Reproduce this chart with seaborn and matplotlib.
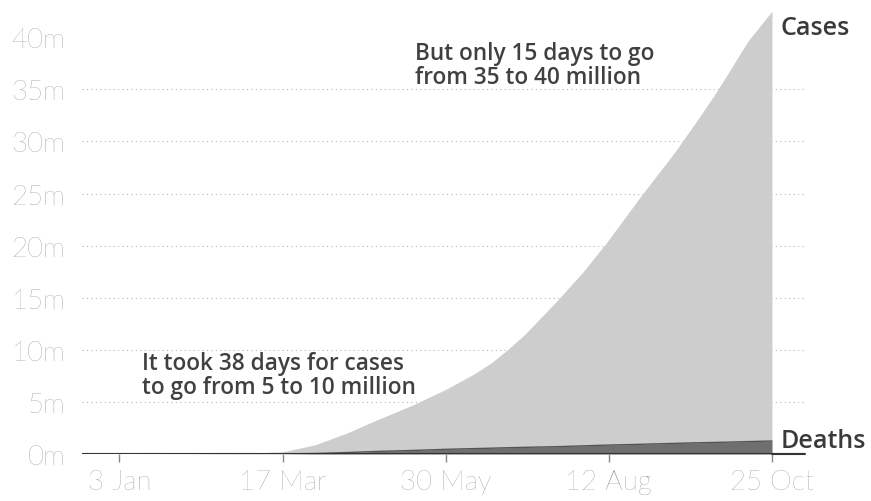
import pandas as pd
import seaborn as sns
import matplotlib.pyplot as plt

# cumulative global totals, millions
dates = ["2019-12-17", "2020-01-03", "2020-02-01", "2020-03-01", "2020-03-17",
         "2020-04-01", "2020-04-15", "2020-04-28", "2020-05-15", "2020-05-30",
         "2020-06-12", "2020-06-20", "2020-06-27", "2020-07-05", "2020-07-19",
         "2020-07-31", "2020-08-11", "2020-08-26", "2020-09-11", "2020-09-20",
         "2020-09-29", "2020-10-05", "2020-10-14", "2020-10-25"]
cases = [0, 0, 0.012, 0.088, 0.2, 0.9, 2.0, 3.2, 4.7, 6.2, 7.7, 8.8, 10.0,
         11.5, 14.6, 17.4, 20.3, 24.6, 29.0, 31.7, 34.5, 36.5, 39.6, 42.5]
deaths = [0, 0, 0.0003, 0.003, 0.008, 0.05, 0.14, 0.24, 0.34, 0.45, 0.52, 0.56,
          0.6, 0.64, 0.7, 0.78, 0.85, 0.93, 1.02, 1.07, 1.11, 1.14, 1.19, 1.25]

yticks = [0, 5, 10, 15, 20, 25, 30, 35, 40]
ytick_labels = ["0m", "5m", "10m", "15m", "20m", "25m", "30m", "35m", "40m"]
xticks = ["2020-01-03", "2020-03-17", "2020-05-30", "2020-08-12", "2020-10-25"]
xtick_labels = ["3 Jan", "17 Mar", "30 May", "12 Aug", "25 Oct"]

df = pd.DataFrame({"date": pd.to_datetime(dates), "cases": cases, "deaths": deaths})

sns.set_style("white")
plt.rcParams["font.family"] = ["Open Sans", "DejaVu Sans"]

fig = plt.figure(figsize=(8.71, 5.02), dpi=100)
ax = fig.add_axes([82 / 871, 1 - 455 / 502, (805 - 82) / 871, (455 - 7) / 502])

ax.fill_between(df["date"], df["cases"], color="#cdcdcd", lw=0)
ax.fill_between(df["date"], df["deaths"], color="#6f6f6f", lw=0)
sns.lineplot(data=df, x="date", y="deaths", ax=ax, color="#555555", lw=1)

ax.set_xlim(pd.Timestamp("2019-12-17"), pd.Timestamp("2020-11-09"))
ax.set_ylim(0, 43)

for y in yticks[1:-1]:
    ax.axhline(y, color="#b5b5b5", lw=0.8, ls=(0, (1, 3)), zorder=0)
ax.axhline(0, color="#333333", lw=1.5, zorder=3)

ax.set_yticks(yticks)
ax.set_yticklabels(ytick_labels)
ax.set_xticks(pd.to_datetime(xticks))
ax.set_xticklabels(xtick_labels)
ax.tick_params(axis="y", length=0, pad=12, labelsize=20, labelcolor="#7a7a7a")
ax.tick_params(axis="x", bottom=True, length=6, width=1, color="#888888",
               pad=5, labelsize=20, labelcolor="#7a7a7a", direction="out")
for lab in ax.get_xticklabels() + ax.get_yticklabels():
    lab.set_family(["Lato", "DejaVu Sans"])
    lab.set_fontweight("light")
ax.set_xlabel("")
ax.set_ylabel("")
sns.despine(ax=ax, left=True, bottom=True, right=True, top=True)

note_style = dict(fontsize=16.3, fontweight="semibold", color="#404040",
                  va="center", linespacing=1.0)
ax.text(pd.Timestamp("2020-01-13"), 7.6,
        "It took 38 days for cases\nto go from 5 to 10 million", **note_style)
ax.text(pd.Timestamp("2020-05-16"), 37.3,
        "But only 15 days to go\nfrom 35 to 40 million", **note_style)
ax.text(pd.Timestamp("2020-10-29"), 40.9, "Cases", fontsize=18,
        fontweight="semibold", color="#3a3a3a", va="center", clip_on=False)
ax.text(pd.Timestamp("2020-10-29"), 1.3, "Deaths", fontsize=18,
        fontweight="semibold", color="#3a3a3a", va="center", clip_on=False)
ax.plot(pd.to_datetime(["2020-10-25", "2020-11-09"]), [0, 0], color="#333333",
        lw=1.5, clip_on=False)

fig.savefig("out.png", dpi=100)
